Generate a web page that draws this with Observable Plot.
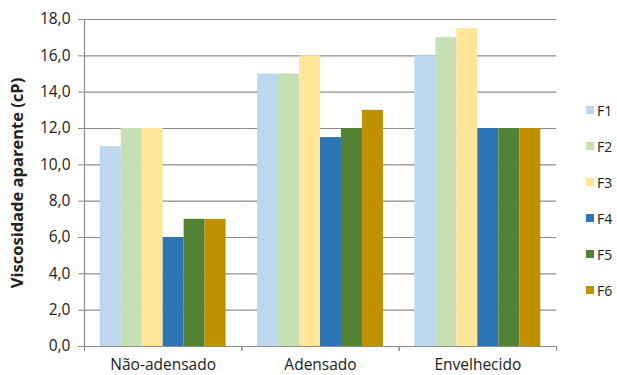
<!DOCTYPE html>
<html><head><meta charset="utf-8">
<script src="https://cdn.jsdelivr.net/npm/d3@7"></script>
<script src="https://cdn.jsdelivr.net/npm/@observablehq/plot@0.6"></script>
<style>
body{margin:0;background:#fff;}
#wrap{position:relative;width:617px;height:375px;font-family:"Open Sans",sans-serif;}
#legend{position:absolute;left:586px;top:0;}
.row{position:absolute;left:0;display:flex;align-items:center;white-space:nowrap;font-size:14px;color:#222;}
.sw{width:8px;height:8px;margin-right:3px;}
</style></head><body>
<div id="wrap"><div id="legend"></div></div>
<script>
const categories = ["Não-adensado", "Adensado", "Envelhecido"];
const series = ["F1", "F2", "F3", "F4", "F5", "F6"];
const colors = ["#bdd7ee", "#c5e0b4", "#ffe699", "#2e75b6", "#548235", "#bf9000"];
const valuesNaoAdensado = [11, 12, 12, 6, 7, 7];
const valuesAdensado = [15, 15, 16, 11.5, 12, 13];
const valuesEnvelhecido = [16, 17, 17.5, 12, 12, 12];
const yTicks = [0, 2, 4, 6, 8, 10, 12, 14, 16, 18];
const yLabel = "Viscosidade aparente (cP)";

const byCat = [valuesNaoAdensado, valuesAdensado, valuesEnvelhecido];
const data = [];
categories.forEach((c, i) => series.forEach((s, j) => data.push({cat: c, series: s, value: byCat[i][j]})));

const W = 617, H = 375, mL = 84, mR = 61, mT = 19, mB = 29;
const pad = 0.75;
const facetW = (W - mL - mR) / categories.length;
const step = facetW / (series.length + 2 * pad);
const edge = step * (pad + 0.5);
const grid = "#8c8c8c";
const fmt = d => d.toFixed(1).replace(".", ",");

const chart = Plot.plot({
  width: W, height: H,
  marginLeft: mL, marginRight: mR, marginTop: mT, marginBottom: mB,
  style: {fontFamily: "'Open Sans', sans-serif", fontSize: "15.5px", color: "#222", background: "#fff"},
  fx: {domain: categories, padding: 0, round: false, label: null},
  x: {domain: series, paddingInner: 0, paddingOuter: pad, round: false, axis: null},
  y: {domain: [0, 18], label: null},
  color: {domain: series, range: colors},
  marks: [
    Plot.ruleY(yTicks, {stroke: grid, strokeWidth: 1.2}),
    Plot.ruleX([series[0]], {fx: () => categories[0], x: d => d, y1: 0, y2: 18, dx: -edge, stroke: grid, strokeWidth: 1.2}),
    Plot.barY(data, {fx: "cat", x: "series", y: "value", fill: "series"}),
    Plot.axisY({ticks: yTicks, tickFormat: fmt, tickSize: 6, tickPadding: 8, stroke: grid, label: null}),
    Plot.axisFx({anchor: "bottom", tickSize: 0, tickPadding: 12, label: null}),
    Plot.axisFx({anchor: "bottom", tickSize: 5, tickFormat: () => "", dx: -facetW / 2, stroke: grid, label: null}),
    Plot.axisFx({anchor: "bottom", tickSize: 5, tickFormat: () => "", dx: facetW / 2, stroke: grid, label: null}),
    Plot.text([yLabel], {fx: () => categories[0], frameAnchor: "left", textAnchor: "middle", rotate: -90, dx: -67, text: d => d, fontWeight: "bold", fontSize: 16.5})
  ]
});
document.getElementById("wrap").prepend(chart);

const legend = document.getElementById("legend");
series.forEach((s, i) => {
  const row = document.createElement("div");
  row.className = "row";
  row.style.top = (110 + 36 * i - 10) + "px";
  row.style.height = "20px";
  const sw = document.createElement("div");
  sw.className = "sw";
  sw.style.background = colors[i];
  const t = document.createElement("span");
  t.textContent = s;
  row.append(sw, t);
  legend.append(row);
});
</script>
</body></html>
